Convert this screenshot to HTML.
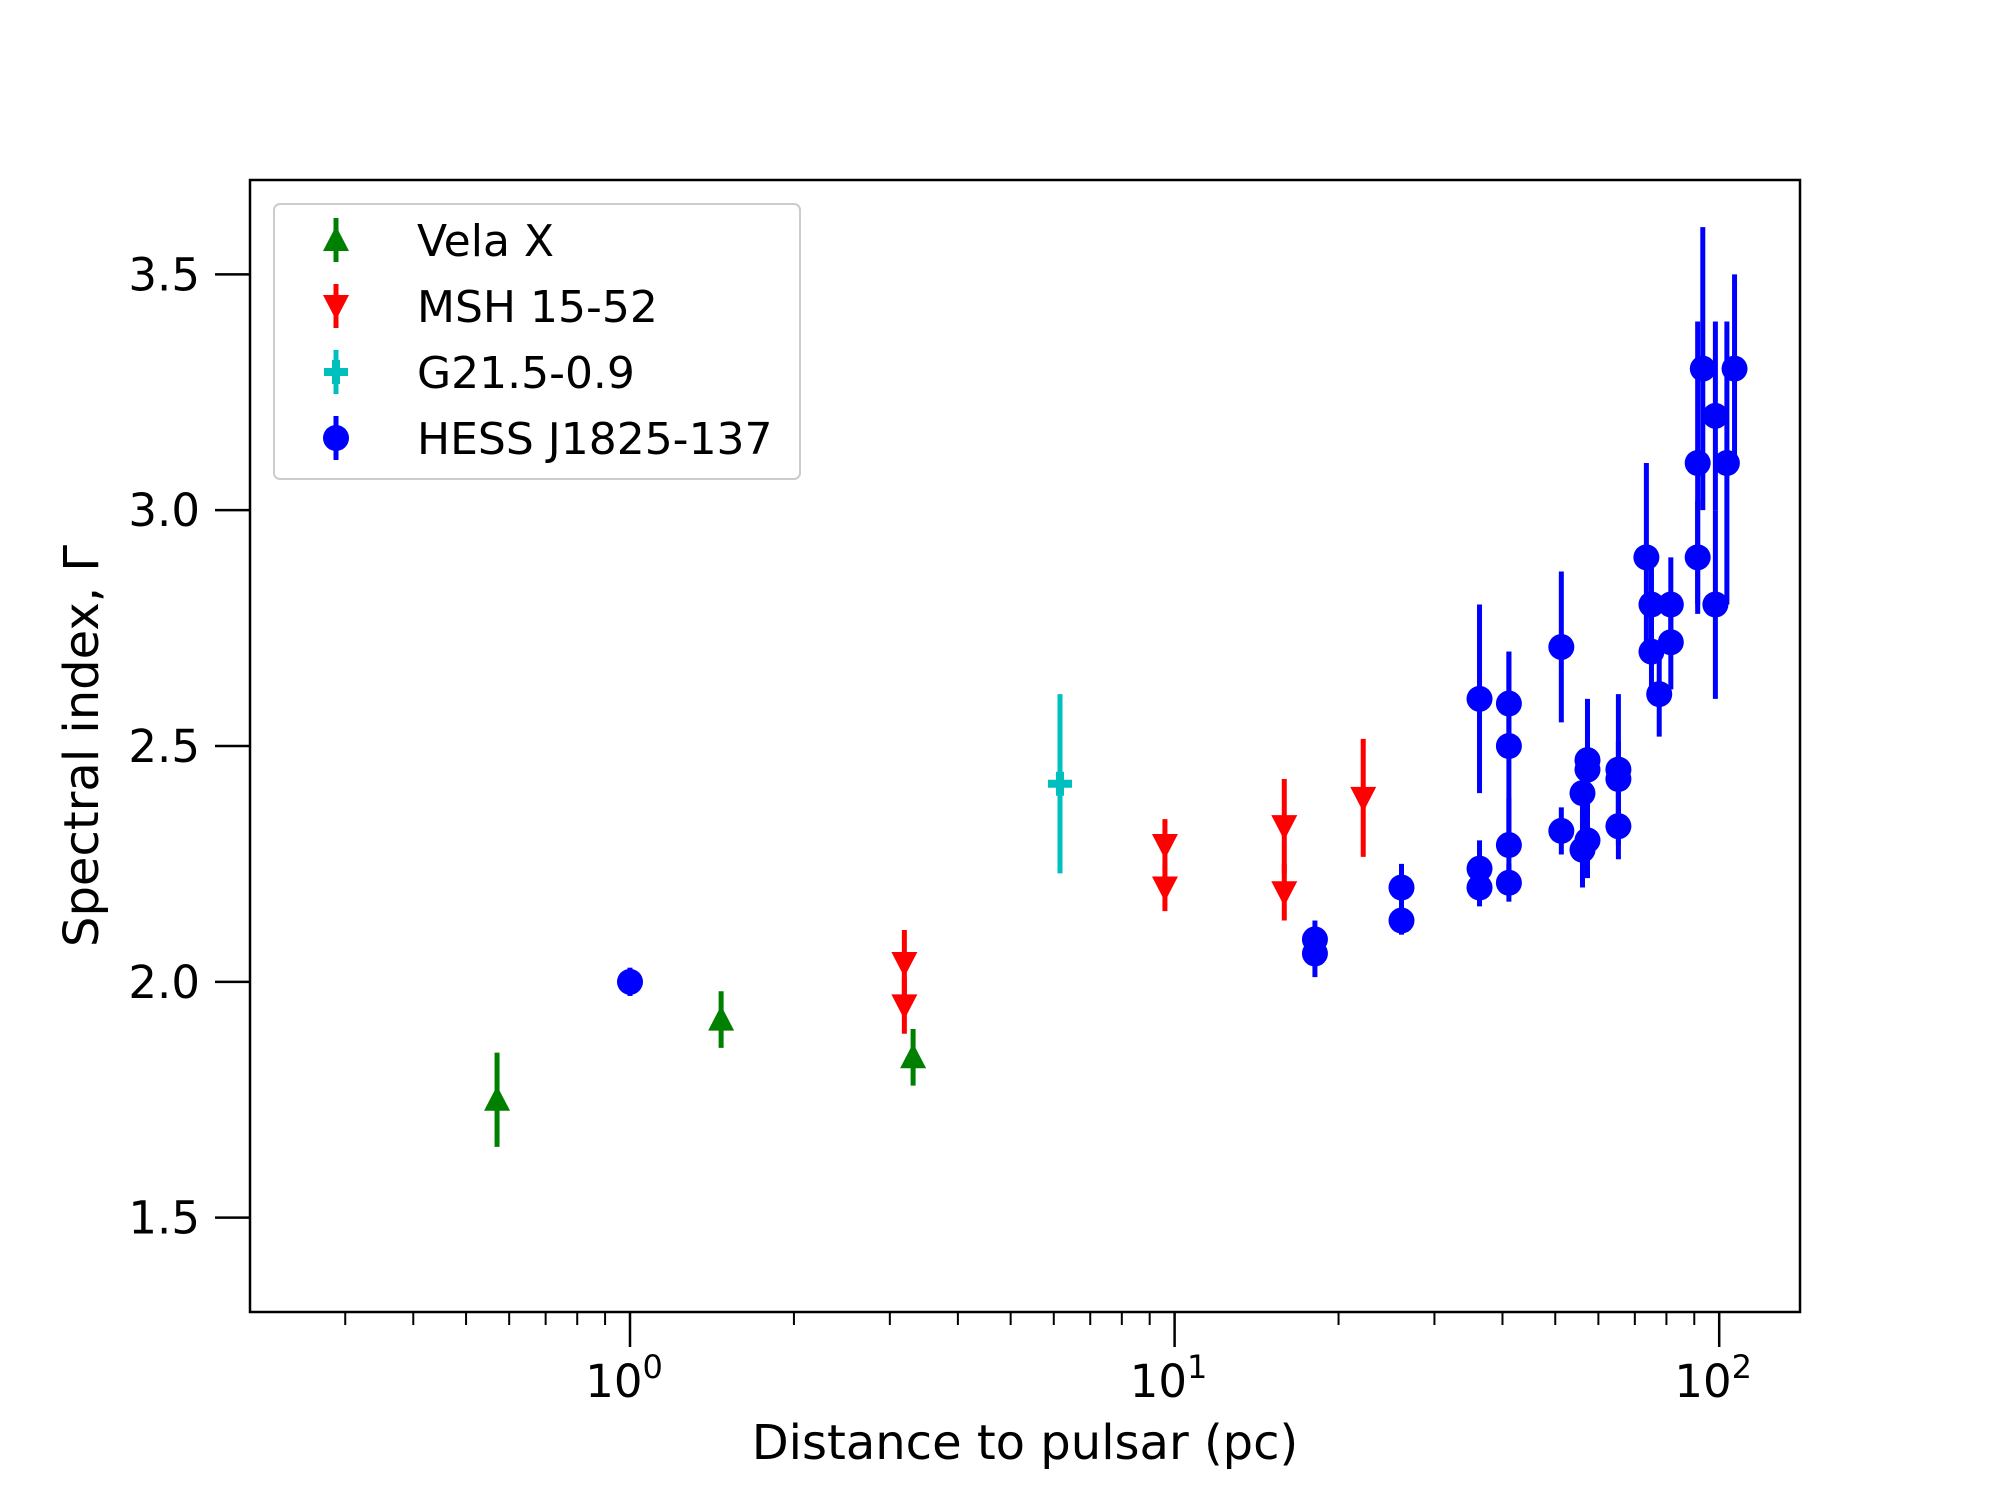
<!DOCTYPE html>
<html><head><meta charset="utf-8"><style>html,body{margin:0;padding:0;background:#fff}svg{display:block}text{font-family:"DejaVu Sans","Liberation Sans",sans-serif;fill:#000}</style></head>
<body>
<svg id="chart" width="2000" height="1500" viewBox="0 0 2000 1500">
<rect x="0" y="0" width="2000" height="1500" fill="#fff"/>
<g id="plot"></g>
</svg>
<script>
const velaX=[0.57,1.47,3.31];
const velaY=[1.75,1.92,1.84];
const velaE=[0.10,0.06,0.06];
const mshX=[3.19,3.19,9.6,9.6,15.9,15.9,22.2];
const mshY=[2.04,1.95,2.29,2.20,2.33,2.19,2.39];
const mshE=[0.07,0.06,0.055,0.05,0.10,0.06,0.125];
const g21X=[6.16];
const g21Y=[2.42];
const g21E=[0.19];
const hessX=[1.0,18.1,18.1,26.1,26.1,36.3,36.3,36.3,41.1,41.1,41.1,41.1,51.3,51.3,56.1,56.1,57.3,57.3,57.3,65.3,65.3,65.3,73.5,75.1,75.1,77.6,81.5,81.5,91.3,91.3,93.3,98.4,98.4,103.3,106.7];
const hessY=[2.00,2.09,2.06,2.20,2.13,2.60,2.24,2.20,2.59,2.50,2.29,2.21,2.71,2.32,2.40,2.28,2.47,2.45,2.30,2.45,2.43,2.33,2.90,2.80,2.70,2.61,2.80,2.72,3.10,2.90,3.30,3.20,2.80,3.10,3.30];
const hessE=[0.03,0.04,0.05,0.05,0.03,0.20,0.06,0.04,0.11,0.20,0.10,0.04,0.16,0.05,0.08,0.08,0.13,0.10,0.08,0.16,0.08,0.07,0.20,0.10,0.10,0.09,0.10,0.10,0.30,0.12,0.30,0.20,0.20,0.30,0.20];
const yTicks=[1.5,2.0,2.5,3.0,3.5];
const xMajor=[1,10,100];
const xMajorExp=["0","1","2"];

const NS="http://www.w3.org/2000/svg";
const L=250,R=1800,T=180,B=1312;
const X0=630,DEC=544.6;
const xs=v=>X0+Math.log10(v)*DEC;
const ys=v=>B-(v-1.3)/(3.7-1.3)*(B-T);
const plot=document.getElementById('plot');
function el(tag,attrs,parent){const e=document.createElementNS(NS,tag);for(const k in attrs)e.setAttribute(k,attrs[k]);(parent||plot).appendChild(e);return e;}

const frame=el('rect',{x:L,y:T,width:R-L,height:B-T,fill:'none',stroke:'#000','stroke-width':2.5});



yTicks.forEach(v=>{
 const y=ys(v);
 const t=el('line',{x1:L-35,x2:L,y1:y,y2:y,stroke:'#000','stroke-width':2.5});
 
 
 const tx=el('text',{x:L-50,y:y+16,'text-anchor':'end','font-size':45});
 tx.textContent=v.toFixed(1);
 
 
});
[0.1,1,10,100].forEach(d=>{for(let k=2;k<=9;k++){const v=d*k;const x=xs(v);if(x<L-0.5||x>R)continue;
 const t=el('line',{x1:x,x2:x,y1:B,y2:B+13,stroke:'#000','stroke-width':2});
 
 }});
xMajor.forEach((v,i)=>{
 const x=xs(v);
 const t=el('line',{x1:x,x2:x,y1:B,y2:B+35,stroke:'#000','stroke-width':2.5});
 
 
 const tx=el('text',{x:x-6,y:1397,'text-anchor':'middle','font-size':45});
 
 
 tx.appendChild(document.createTextNode('10'));
 const sp=el('tspan',{dy:-19,'font-size':32},tx);sp.textContent=xMajorExp[i];
});
const xl=el('text',{x:(L+R)/2,y:1459,'text-anchor':'middle','font-size':48});
xl.textContent='Distance to pulsar (pc)';


const yl=el('text',{x:0,y:0,'text-anchor':'middle','font-size':48,transform:'translate(98,'+((T+B)/2)+') rotate(-90)'});
yl.textContent='Spectral index, Γ';



function marker(kind,cx,cy,color,parent){
 const r=13;let m;
 if(kind==='up')m=el('polygon',{points:`${cx},${cy-r-1} ${cx-r},${cy+r-2} ${cx+r},${cy+r-2}`,fill:color},parent);
 else if(kind==='down')m=el('polygon',{points:`${cx},${cy+r+1} ${cx-r},${cy-r+2} ${cx+r},${cy-r+2}`,fill:color},parent);
 else if(kind==='plus')m=el('path',{d:`M${cx-12},${cy}H${cx+12}M${cx},${cy-12}V${cy+12}`,stroke:color,'stroke-width':8},parent);
 else m=el('circle',{cx:cx,cy:cy,r:r,fill:color},parent);
 return m;
}
function series(name,X,Y,E,color,kind){
 const g=el('g',{});
 
 
 X.forEach((v,i)=>{
  const x=xs(v);
  const eb=el('line',{x1:x,x2:x,y1:ys(Y[i]-E[i]),y2:ys(Y[i]+E[i]),stroke:color,'stroke-width':5},g);
  
  
  const m=marker(kind,x,ys(Y[i]),color,g);
  
  
 });
}
series('vela-x',velaX,velaY,velaE,'#008000','up');
series('msh-15-52',mshX,mshY,mshE,'#ff0000','down');
series('g21-5',g21X,g21Y,g21E,'#00bfbf','plus');
series('hess-j1825',hessX,hessY,hessE,'#0000ff','circle');

const lg=el('g',{});


el('rect',{x:274,y:204,width:526,height:275,rx:6,fill:'#fff','fill-opacity':0.8,stroke:'#ccc','stroke-width':2},lg);
const items=[['Vela X','#008000','up'],['MSH 15-52','#ff0000','down'],['G21.5-0.9','#00bfbf','plus'],['HESS J1825-137','#0000ff','circle']];
items.forEach((it,i)=>{
 const cy=240+i*66;
 const eg=el('g',{},lg);
 
 
 el('line',{x1:336,x2:336,y1:cy-22,y2:cy+22,stroke:it[1],'stroke-width':5},eg);
 marker(it[2],336,cy,it[1],eg);
 const t=el('text',{x:417,y:cy+16,'font-size':44},eg);t.textContent=it[0];
});
</script>
</body></html>
